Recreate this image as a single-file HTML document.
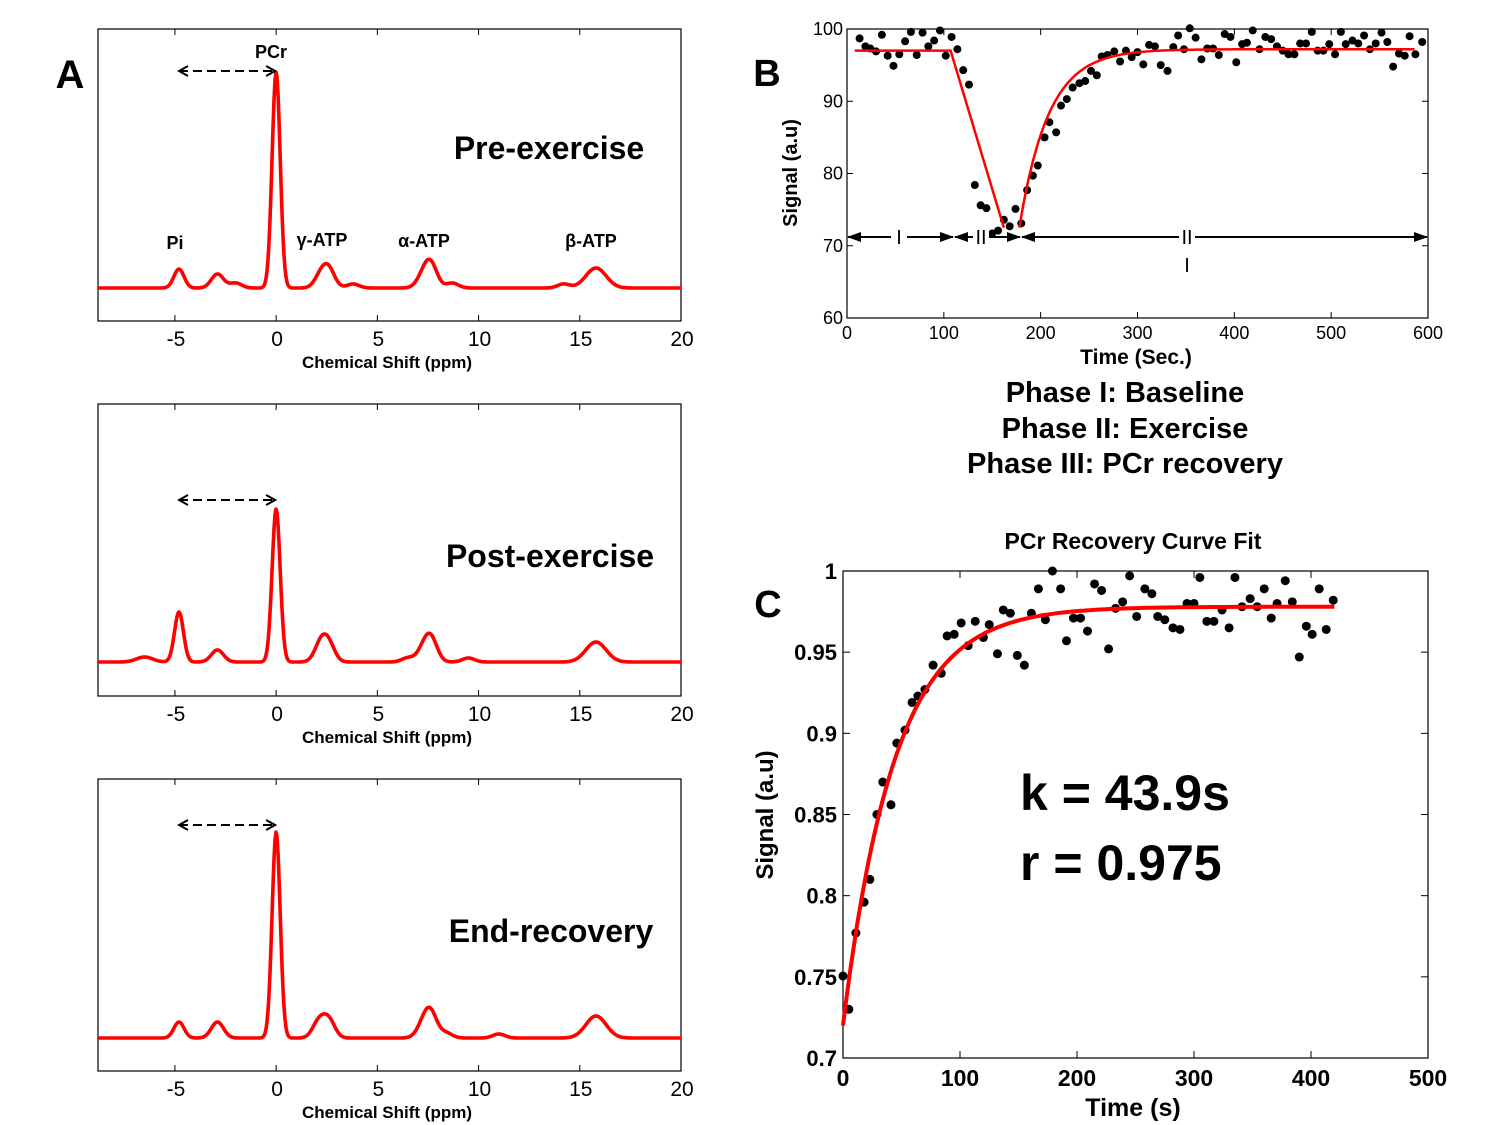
<!DOCTYPE html>
<html><head><meta charset="utf-8">
<style>
html,body{margin:0;padding:0;background:#fff;}
svg{display:block;font-family:"Liberation Sans",sans-serif;}
</style></head>
<body>
<svg id="fig" width="1500" height="1125" viewBox="0 0 1500 1125" xmlns="http://www.w3.org/2000/svg">
<defs>
<marker id="ah" markerWidth="12" markerHeight="12" refX="10" refY="6" orient="auto-start-reverse" markerUnits="userSpaceOnUse">
<path d="M1,1 L10,6 L1,11" fill="none" stroke="#000" stroke-width="2"/>
</marker>
<marker id="tri" markerWidth="14" markerHeight="10" refX="13" refY="5" orient="auto-start-reverse" markerUnits="userSpaceOnUse">
<path d="M0,0 L14,5 L0,10 Z" fill="#000"/>
</marker>
</defs>
<g id="panelA"></g>
<g id="panelB"></g>
<g id="panelC"></g>
</svg>
<script>
// ---------- Panel A data: peaks (ppm position, height in px, width sigma ppm) ----------
const peakPos1 = [-4.8, -2.9, -2.0, 0.0, 2.2, 2.6, 3.8, 7.4, 7.7, 8.7, 15.8, 14.2];
const peakAmp1 = [19, 14, 5, 216, 12, 18, 4, 18, 14, 5, 20, 4];
const peakPos2 = [-6.5, -4.8, -2.9, 0.0, 2.2, 2.6, 6.5, 7.4, 7.7, 9.5, 15.8];
const peakAmp2 = [5, 50, 12, 153, 18, 17, 4, 18, 14, 4, 20];
const peakPos3 = [-4.8, -2.9, 0.0, 2.1, 2.6, 7.4, 7.7, 8.4, 15.8, 11.0];
const peakAmp3 = [16, 16, 206, 16, 18, 20, 14, 5, 22, 4];
const peakWid1 = [0.25, 0.3, 0.3, 0.2, 0.3, 0.3, 0.3, 0.35, 0.3, 0.3, 0.5, 0.3];
const peakWid2 = [0.4, 0.22, 0.3, 0.2, 0.3, 0.3, 0.3, 0.35, 0.3, 0.3, 0.5];
const peakWid3 = [0.25, 0.3, 0.2, 0.3, 0.3, 0.35, 0.3, 0.3, 0.5, 0.3];
const ppmTicks = [-5, 0, 5, 10, 15, 20];

// ---------- Panel B data ----------
const bTime = [13,19,24,30,36,42,48,54,60,66,72,78,84,90,96,102,108,114,120,126,132,138,144,150,156,162,168,174,180,186,192,197,204,209,216,221,227,233,240,246,252,258,263,269,276,282,288,294,300,306,312,318,324,331,337,342,348,354,360,366,372,378,384,390,396,402,408,413,419,426,432,438,444,450,456,462,468,474,480,486,492,498,504,510,515,522,528,534,540,546,552,558,564,570,576,581,587,594];
const bSignal = [98.7,97.6,97.3,96.9,99.2,96.3,94.9,96.5,98.3,99.6,96.4,99.5,97.6,98.4,99.8,96.3,98.9,97.2,94.3,92.3,78.4,75.6,75.2,71.7,72.1,73.6,72.7,75.1,73.1,77.7,79.7,81.1,85.0,87.1,85.7,89.4,90.3,91.9,92.5,92.8,94.2,93.6,96.2,96.4,96.9,95.5,97.0,96.1,96.8,95.1,97.8,97.6,95.0,94.2,97.5,99.1,97.2,100.1,98.8,95.8,97.3,97.3,96.4,99.3,98.9,95.4,97.9,98.1,99.8,97.2,98.9,98.6,97.6,97.0,96.5,96.5,98.0,98.0,99.6,97.0,97.0,97.9,96.5,99.6,97.9,98.4,98.0,99.1,97.2,98.0,99.5,98.2,94.8,96.6,96.3,99.0,96.5,98.2];
const bFitParams = {baseline:97.0, dropStart:107, dropEnd:162, minVal:72.5, recStart:178, plateau:97.2, tau:30, end:587};
const bXTicks = [0,100,200,300,400,500,600];
const bYTicks = [60,70,80,90,100];

// ---------- Panel C data ----------
const cTime = [0,5,11,18,23,29,34,41,46,53,59,64,70,77,84,89,95,101,107,113,120,125,132,137,143,149,155,161,167,173,179,186,191,197,203,209,215,221,227,233,239,245,251,258,264,269,275,282,288,294,300,305,311,317,324,330,335,341,348,354,360,366,371,378,384,390,396,401,407,413,419];
const cSignal = [0.7505,0.730,0.777,0.796,0.810,0.850,0.870,0.856,0.894,0.902,0.919,0.923,0.927,0.942,0.937,0.960,0.961,0.968,0.954,0.969,0.959,0.967,0.949,0.976,0.974,0.948,0.942,0.974,0.989,0.970,1.000,0.989,0.957,0.971,0.971,0.963,0.992,0.988,0.952,0.977,0.981,0.997,0.972,0.989,0.986,0.972,0.970,0.965,0.964,0.980,0.980,0.996,0.969,0.969,0.976,0.965,0.996,0.978,0.983,0.978,0.989,0.971,0.980,0.994,0.981,0.947,0.966,0.961,0.989,0.964,0.982];
const cFitParams = {start:0.72, plateau:0.978, k:43.9, tEnd:420};
const cXTicks = [0,100,200,300,400,500];
const cYTicks = [0.7,0.75,0.8,0.85,0.9,0.95,1];
const cYTickLabels = ["0.7","0.75","0.8","0.85","0.9","0.95","1"];

const NS = "http://www.w3.org/2000/svg";
function mk(parent, tag, attrs, text){
  const e = document.createElementNS(NS, tag);
  for (const k in attrs) e.setAttribute(k, attrs[k]);
  if (text !== undefined) e.textContent = text;
  parent.appendChild(e);
  return e;
}

// ================= PANEL A =================
const A = document.getElementById('panelA');
const aX0 = 98, aX1 = 681, ppmMin = -8.8, ppmMax = 20;
function ax(p){ return aX0 + (p - ppmMin) / (ppmMax - ppmMin) * (aX1 - aX0); }
const spectra = [
  {top:29, base:288, pos:peakPos1, amp:peakAmp1, wid:peakWid1, title:"Pre-exercise", tx:549, ty:159, arrowY:71, name:"pre-exercise"},
  {top:404, base:662, pos:peakPos2, amp:peakAmp2, wid:peakWid2, title:"Post-exercise", tx:550, ty:567, arrowY:500, name:"post-exercise"},
  {top:779, base:1038, pos:peakPos3, amp:peakAmp3, wid:peakWid3, title:"End-recovery", tx:551, ty:942, arrowY:825, name:"end-recovery"}
];
spectra.forEach((s, si) => {
  const g = mk(A, 'g', {});
  
  
  const bottom = s.top + 292;
  const box = mk(g, 'rect', {x:aX0, y:s.top, width:aX1-aX0, height:bottom-s.top, fill:'none', stroke:'#000', 'stroke-width':1.2});
  
  
  ppmTicks.forEach(t => {
    const x = ax(t);
    mk(g, 'line', {x1:x, y1:bottom, x2:x, y2:bottom-6, stroke:'#000', 'stroke-width':1});
    mk(g, 'line', {x1:x, y1:s.top, x2:x, y2:s.top+6, stroke:'#000', 'stroke-width':1});
    const lbl = mk(g, 'text', {x:x+1, y:bottom+25, 'text-anchor':'middle', 'font-size':21, fill:'#000'}, String(t));
    
    
  });
  const xl = mk(g, 'text', {x:387, y:bottom+47, 'text-anchor':'middle', 'font-size':17, 'font-weight':'bold', fill:'#000'}, 'Chemical Shift (ppm)');
  
  
  let d = '';
  for (let px = aX0; px <= aX1; px += 1) {
    const p = ppmMin + (px - aX0) / (aX1 - aX0) * (ppmMax - ppmMin);
    let y = 0;
    for (let i = 0; i < s.pos.length; i++) {
      const z = (p - s.pos[i]) / s.wid[i];
      y += s.amp[i] * Math.exp(-0.5 * z * z);
    }
    d += (px === aX0 ? 'M' : 'L') + px + ',' + (s.base - y).toFixed(1);
  }
  const line = mk(g, 'path', {d:d, fill:'none', stroke:'#ff0000', 'stroke-width':3.6, 'stroke-linejoin':'round'});
  
  
  const arr = mk(g, 'line', {x1:ax(-4.8), y1:s.arrowY, x2:ax(0)-1, y2:s.arrowY, stroke:'#000', 'stroke-width':2, 'stroke-dasharray':'9,5', 'marker-start':'url(#ah)', 'marker-end':'url(#ah)'});
  
  
  const tt = mk(g, 'text', {x:s.tx, y:s.ty, 'text-anchor':'middle', 'font-size':32, 'font-weight':'bold', fill:'#000'}, s.title);
  
  
});
const peakLabels = [["PCr",271,58],["Pi",175,249],["γ-ATP",322,246],["α-ATP",424,247],["β-ATP",591,247]];
peakLabels.forEach(l => {
  const t = mk(A, 'text', {x:l[1], y:l[2], 'text-anchor':'middle', 'font-size':18, 'font-weight':'bold', fill:'#000'}, l[0]);
  
  
});
const la = mk(A, 'text', {x:70, y:88, 'text-anchor':'middle', 'font-size':40, 'font-weight':'bold', fill:'#000'}, 'A');



// ================= PANEL B =================
const B = document.getElementById('panelB');
const bL = 847, bR = 1428, bT = 29, bB = 318;
function bx(t){ return bL + t / 600 * (bR - bL); }
function by(v){ return bB - (v - 60) / 40 * (bB - bT); }
const bbox = mk(B, 'rect', {x:bL, y:bT, width:bR-bL, height:bB-bT, fill:'none', stroke:'#000', 'stroke-width':1.2});


bXTicks.forEach(t => {
  mk(B, 'line', {x1:bx(t), y1:bB, x2:bx(t), y2:bB-6, stroke:'#000'});
  mk(B, 'line', {x1:bx(t), y1:bT, x2:bx(t), y2:bT+6, stroke:'#000'});
  const l = mk(B, 'text', {x:bx(t), y:bB+21, 'text-anchor':'middle', 'font-size':18, fill:'#000'}, String(t));
  
  
});
bYTicks.forEach(v => {
  mk(B, 'line', {x1:bL, y1:by(v), x2:bL+6, y2:by(v), stroke:'#000'});
  mk(B, 'line', {x1:bR, y1:by(v), x2:bR-6, y2:by(v), stroke:'#000'});
  const l = mk(B, 'text', {x:bL-4, y:by(v)+6, 'text-anchor':'end', 'font-size':18, fill:'#000'}, String(v));
  
  
});
const bxl = mk(B, 'text', {x:1136, y:364, 'text-anchor':'middle', 'font-size':21, 'font-weight':'bold', fill:'#000'}, 'Time (Sec.)');


const byl = mk(B, 'text', {x:0, y:0, transform:'translate(797,173) rotate(-90)', 'text-anchor':'middle', 'font-size':20, 'font-weight':'bold', fill:'#000'}, 'Signal (a.u)');


bTime.forEach((t, i) => {
  const c = mk(B, 'circle', {cx:bx(t), cy:by(bSignal[i]), r:4, fill:'#000'});
  
  
});
(function(){
  const f = bFitParams;
  let d = 'M' + bx(8) + ',' + by(f.baseline) + 'L' + bx(f.dropStart) + ',' + by(f.baseline) + 'L' + bx(f.dropEnd) + ',' + by(f.minVal);
  let d2 = '';
  for (let t = f.recStart; t <= f.end; t += 2) {
    const v = f.plateau - (f.plateau - f.minVal) * Math.exp(-(t - f.recStart) / f.tau);
    d2 += (t === f.recStart ? 'M' : 'L') + bx(t).toFixed(1) + ',' + by(v).toFixed(1);
  }
  const p1 = mk(B, 'path', {d:d, fill:'none', stroke:'#ff0000', 'stroke-width':2.5});
  
  
  const p2 = mk(B, 'path', {d:d2, fill:'none', stroke:'#ff0000', 'stroke-width':2.5});
  
  
})();
const phaseY = 237;
[[bL+1, 953],[955, 1020],[1022, bR-1]].forEach((seg, i) => {
  const a = mk(B, 'line', {x1:seg[0], y1:phaseY, x2:seg[1], y2:phaseY, stroke:'#000', 'stroke-width':2, 'marker-start':'url(#tri)', 'marker-end':'url(#tri)'});
  
  
});
[[899,'I'],[981,'II'],[1187,'II']].forEach(p => {
  mk(B, 'rect', {x:p[0]-8, y:phaseY-8, width:16, height:16, fill:'#fff'});
  const t = mk(B, 'text', {x:p[0], y:phaseY+7, 'text-anchor':'middle', 'font-size':20, fill:'#000'}, p[1]);
  
  
});
const pm = mk(B, 'text', {x:1187, y:272, 'text-anchor':'middle', 'font-size':20, fill:'#000'}, 'I');


const lb = mk(B, 'text', {x:767, y:86, 'text-anchor':'middle', 'font-size':38, 'font-weight':'bold', fill:'#000'}, 'B');


[['Phase I: Baseline',402],['Phase II: Exercise',438],['Phase III: PCr recovery',473]].forEach(p => {
  const t = mk(B, 'text', {x:1125, y:p[1], 'text-anchor':'middle', 'font-size':29, 'font-weight':'bold', fill:'#000'}, p[0]);
  
  
});

// ================= PANEL C =================
const C = document.getElementById('panelC');
const cL = 843, cR = 1428, cT = 571, cB = 1058;
function cx(t){ return cL + t / 500 * (cR - cL); }
function cy(v){ return cB - (v - 0.7) / 0.3 * (cB - cT); }
const cbox = mk(C, 'rect', {x:cL, y:cT, width:cR-cL, height:cB-cT, fill:'none', stroke:'#000', 'stroke-width':1.2});


cXTicks.forEach(t => {
  mk(C, 'line', {x1:cx(t), y1:cB, x2:cx(t), y2:cB-7, stroke:'#000'});
  mk(C, 'line', {x1:cx(t), y1:cT, x2:cx(t), y2:cT+7, stroke:'#000'});
  const l = mk(C, 'text', {x:cx(t), y:cB+28, 'text-anchor':'middle', 'font-size':23, 'font-weight':'bold', fill:'#000'}, String(t));
  
  
});
cYTicks.forEach((v, i) => {
  mk(C, 'line', {x1:cL, y1:cy(v), x2:cL+7, y2:cy(v), stroke:'#000'});
  mk(C, 'line', {x1:cR, y1:cy(v), x2:cR-7, y2:cy(v), stroke:'#000'});
  const l = mk(C, 'text', {x:cL-6, y:cy(v)+8, 'text-anchor':'end', 'font-size':22, 'font-weight':'bold', fill:'#000'}, cYTickLabels[i]);
  
  
});
const ctl = mk(C, 'text', {x:1133, y:549, 'text-anchor':'middle', 'font-size':23, 'font-weight':'bold', fill:'#000'}, 'PCr Recovery Curve Fit');


const cxl = mk(C, 'text', {x:1133, y:1116, 'text-anchor':'middle', 'font-size':25, 'font-weight':'bold', fill:'#000'}, 'Time (s)');


const cyl = mk(C, 'text', {x:0, y:0, transform:'translate(773,815) rotate(-90)', 'text-anchor':'middle', 'font-size':24, 'font-weight':'bold', fill:'#000'}, 'Signal (a.u)');


cTime.forEach((t, i) => {
  const c = mk(C, 'circle', {cx:cx(t), cy:cy(cSignal[i]), r:4.5, fill:'#000'});
  
  
});
(function(){
  const f = cFitParams;
  let d = '';
  for (let t = 0; t <= f.tEnd; t += 2) {
    const v = f.plateau - (f.plateau - f.start) * Math.exp(-t / f.k);
    d += (t === 0 ? 'M' : 'L') + cx(t).toFixed(1) + ',' + cy(v).toFixed(1);
  }
  const p = mk(C, 'path', {d:d, fill:'none', stroke:'#ff0000', 'stroke-width':4});
  
  
})();
const kt = mk(C, 'text', {x:1020, y:810, 'font-size':50, 'font-weight':'bold', fill:'#000'}, 'k = 43.9s');


const rt = mk(C, 'text', {x:1020, y:880, 'font-size':50, 'font-weight':'bold', fill:'#000'}, 'r = 0.975');


const lc = mk(C, 'text', {x:768, y:617, 'text-anchor':'middle', 'font-size':38, 'font-weight':'bold', fill:'#000'}, 'C');


</script>
</body></html>
